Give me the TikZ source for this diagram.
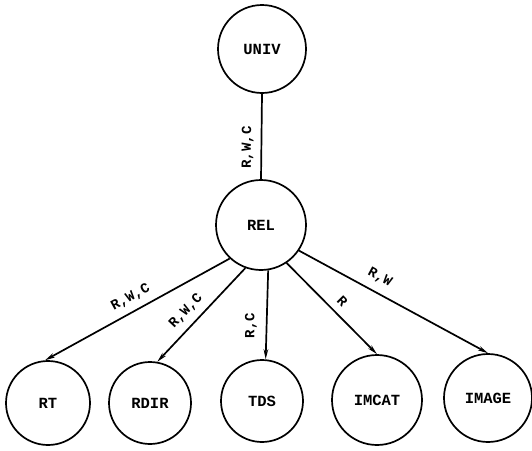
\documentclass[tikz,border=0pt]{standalone}
\usepackage{fontspec}
\newfontfamily\typefont{Liberation Mono}
\usetikzlibrary{arrows.meta}
\begin{document}
\begin{tikzpicture}[x=1pt,y=-1pt,
  obj/.style={circle,draw,line width=1.7pt,inner sep=0pt,
    font=\typefont\bfseries\fontsize{15.5}{15.5}\selectfont},
  acc/.style={line width=1.7pt},
  accto/.style={acc,-{Stealth[length=10pt,width=4.5pt]}},
  rights/.style={font=\typefont\bfseries\fontsize{14}{14}\selectfont,inner sep=1pt}]
\useasboundingbox (0,0) rectangle (532,450);

% objects
\node[obj,minimum size=88pt] (univ)  at (262,49)  {UNIV};
\node[obj,minimum size=90pt] (rel)   at (261,225) {REL};
\node[obj,minimum size=84pt] (rt)    at (48,403)  {RT};
\node[obj,minimum size=82pt] (rdir)  at (150,403) {RDIR};
\node[obj,minimum size=82pt] (tds)   at (262,401) {TDS};
\node[obj,minimum size=90pt] (imcat) at (377,400) {IMCAT};
\node[obj,minimum size=88pt] (image) at (488,398) {IMAGE};

% access paths with their rights
\draw[acc] (rel.north) -- (univ.south)
  node[rights,pos=0.37,sloped,above=6pt] {R,W,C};
\draw[accto] (rel.-133) -- (rt.94)
  node[rights,pos=0.50,sloped,above=6pt] {R,W,C};
\draw[accto] (rel.-110) -- (rdir.80)
  node[rights,pos=0.56,sloped,above=6pt] {R,W,C};
\draw[accto] (rel.-81) -- (tds.85)
  node[rights,pos=0.62,rotate=90,anchor=south,yshift=8pt] {R,C};
\draw[accto] (rel.-56) -- (imcat.90)
  node[rights,pos=0.52,sloped,above=6pt] {R};
\draw[accto] (rel.-34) -- (image.90)
  node[rights,pos=0.39,sloped,above=7pt] {R,W};
\end{tikzpicture}
\end{document}
